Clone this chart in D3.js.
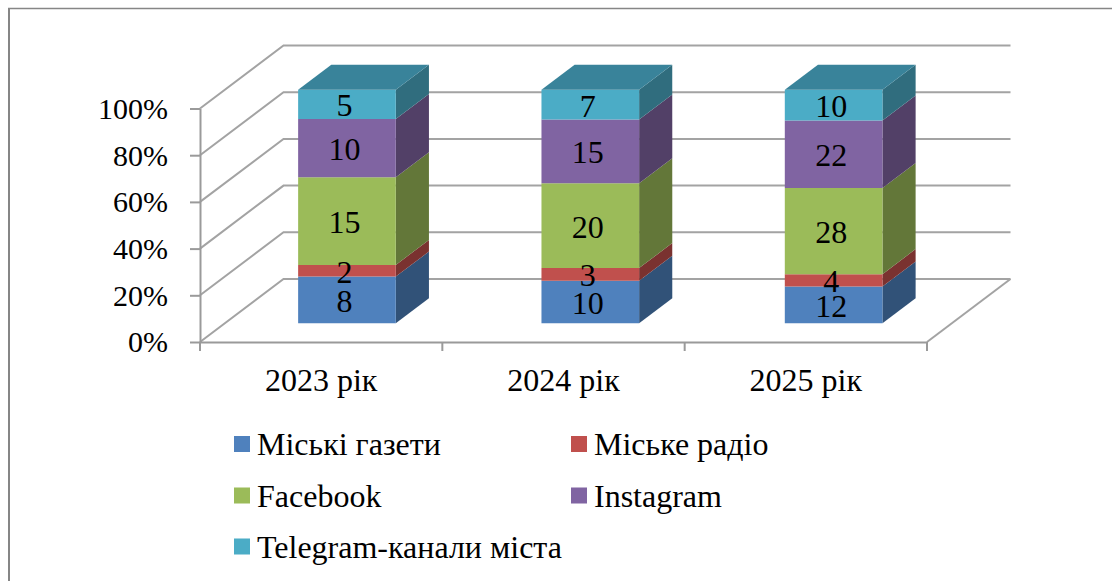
<!DOCTYPE html>
<html>
<head>
<meta charset="utf-8">
<script src="https://cdn.jsdelivr.net/npm/d3@7"></script>
<style>
html, body { margin: 0; padding: 0; background: #fff; overflow: hidden; }
svg { display: block; }
text { font-family: "Liberation Serif", serif; fill: #000; }
</style>
</head>
<body>
<svg id="chart"></svg>
<script>
const categories = ["2023 рік", "2024 рік", "2025 рік"];
const seriesNames = ["Міські газети", "Міське радіо", "Facebook", "Instagram", "Telegram-канали міста"];
const gazety = [8, 10, 12];
const radio = [2, 3, 4];
const facebook = [15, 20, 28];
const instagram = [10, 15, 22];
const telegram = [5, 7, 10];
const percentTicks = [0, 20, 40, 60, 80, 100];
const frontColors = ["#4f81bd", "#c0504d", "#9bbb59", "#8064a2", "#4bacc6"];
const sideColors = ["#315278", "#7a3230", "#637739", "#524067", "#306d7e"];
const topColors = ["#3c6290", "#923d3a", "#768e44", "#61497b", "#39839a"];

const width = 1112;
const height = 581;
const labelSize = "32px";

const svg = d3.select("#chart")
	.attr("width", width)
	.attr("height", height);

const seriesValues = [gazety, radio, facebook, instagram, telegram];
const rows = categories.map((c, i) => {
	const row = { category: c };
	seriesNames.forEach((s, j) => { row[s] = seriesValues[j][i]; });
	return row;
});
const stacked = d3.stack().keys(seriesNames).offset(d3.stackOffsetExpand)(rows);

const x = d3.scaleBand().domain(categories).range([200, 927]).paddingInner(0).paddingOuter(0);
// the boxes are spaced a little wider than the axis ticks
const barBand = d3.scaleBand().domain(categories).range([200, 930]);
const y = d3.scaleLinear().domain([0, 1]).range([342, 108.5]);
// depth: 0 is the front edge of the floor, 1 the back wall
const depthX = d3.scaleLinear().domain([0, 1]).range([0, 83.5]);
const depthY = d3.scaleLinear().domain([0, 1]).range([0, -63]);

const project = (px, value, depth) => [px + depthX(depth), y(value) + depthY(depth)];
const poly = (pts) => pts.map((p) => p.join(",")).join(" ");

const gridColor = "#a3a3a3";
const axisColor = "#9a9a9a";

// outer frame, only top and left are in view
svg.append("line")
	.attr("x1", 8).attr("x2", width)
	.attr("y1", 8.5).attr("y2", 8.5)
	.attr("stroke", "#868686")
	.attr("stroke-width", 1.5);
svg.append("line")
	.attr("x1", 9).attr("x2", 9)
	.attr("y1", 8).attr("y2", height)
	.attr("stroke", "#868686")
	.attr("stroke-width", 2);

// walls
const walls = svg.append("g");
percentTicks.forEach((t) => {
	const v = t / 100;
	const a = project(x.range()[0], v, 0);
	const b = project(x.range()[0], v, 1);
	const c = project(x.range()[1], v, 1);
	walls.append("polyline")
		.attr("points", poly([a, b, c]))
		.attr("fill", "none")
		.attr("stroke", gridColor)
		.attr("stroke-width", 2);
});
const floorEnd = [project(x.range()[1], 0, 0), project(x.range()[1], 0, 1)];
walls.append("line")
	.attr("x1", floorEnd[0][0]).attr("y1", floorEnd[0][1])
	.attr("x2", floorEnd[1][0]).attr("y2", floorEnd[1][1])
	.attr("stroke", gridColor)
	.attr("stroke-width", 2);

// axes
const yAxis = svg.append("g")
	.attr("transform", `translate(${x.range()[0]},0)`)
	.call(d3.axisLeft(y)
		.tickValues(percentTicks.map((t) => t / 100))
		.tickFormat(d3.format(".0%"))
		.tickSize(10)
		.tickSizeOuter(0)
		.tickPadding(22));
yAxis.selectAll("line, path").attr("stroke", axisColor).attr("stroke-width", 2);
yAxis.selectAll("text")
	.style("font-size", "30px")
	.attr("dy", "0.33em")
	.attr("fill", "#000");

const xAxis = svg.append("g")
	.attr("transform", `translate(0,${y(0)})`)
	.call(d3.axisBottom(x).tickSize(0).tickPadding(26));
xAxis.selectAll("path").attr("stroke", axisColor).attr("stroke-width", 2);
xAxis.selectAll("text")
	.style("font-size", labelSize)
	.attr("dy", "0.71em")
	.attr("fill", "#000");
xAxis.selectAll("line.edge")
	.data(categories.map((c) => x(c)).concat(x.range()[1]))
	.enter()
	.append("line")
	.attr("class", "edge")
	.attr("x1", (d) => d).attr("x2", (d) => d)
	.attr("y1", 0).attr("y2", 9)
	.attr("stroke", axisColor)
	.attr("stroke-width", 2);

// bars: each box sits between two depths, width is a fixed share of the band
const depthFront = 0.297;
const depthBack = 0.694;
const barWidth = x.bandwidth() * 0.403;
const barLeft = (c) => barBand(c) + barBand.bandwidth() / 2 - barWidth / 2 + 0.5;

const bars = svg.append("g");
stacked.forEach((layer, li) => {
	layer.forEach((d) => {
		const c = d.data.category;
		const left = barLeft(c);
		const right = left + barWidth;
		const g = bars.append("g");
		// right side
		g.append("polygon")
			.attr("fill", sideColors[li])
			.attr("points", poly([
				project(right, d[0], depthFront),
				project(right, d[0], depthBack),
				project(right, d[1], depthBack),
				project(right, d[1], depthFront)
			]));
		// front
		g.append("polygon")
			.attr("fill", frontColors[li])
			.attr("points", poly([
				project(left, d[0], depthFront),
				project(right, d[0], depthFront),
				project(right, d[1], depthFront),
				project(left, d[1], depthFront)
			]));
		// lid only on the last layer
		if (li === stacked.length - 1) {
			g.append("polygon")
				.attr("fill", topColors[li])
				.attr("points", poly([
					project(left, d[1], depthFront),
					project(right, d[1], depthFront),
					project(right, d[1], depthBack),
					project(left, d[1], depthBack)
				]));
		}
	});
});

// value labels sit a bit under the middle of the front face
const labels = svg.append("g");
stacked.forEach((layer, li) => {
	layer.forEach((d, i) => {
		const c = d.data.category;
		const mid = (d[0] + d[1]) / 2;
		const p = project(barLeft(c) + barWidth / 2, mid, depthFront);
		labels.append("text")
			.attr("x", p[0] - 2.5)
			.attr("y", p[1] + 12)
			.attr("text-anchor", "middle")
			.style("font-size", labelSize)
			.text(seriesValues[li][i]);
	});
});

// legend, two columns
const legendX = d3.scaleOrdinal().domain([0, 1]).range([234, 571]);
const legendY = d3.scaleOrdinal().domain([0, 1, 2]).range([446, 497.5, 548.5]);
const legend = svg.append("g");
seriesNames.forEach((name, i) => {
	const col = i % 2;
	const row = Math.floor(i / 2);
	const g = legend.append("g")
		.attr("transform", `translate(${legendX(col)},${legendY(row)})`);
	g.append("rect")
		.attr("x", 0).attr("y", -10)
		.attr("width", 16).attr("height", 16)
		.attr("fill", frontColors[i]);
	g.append("text")
		.attr("x", 23)
		.attr("y", 9)
		.style("font-size", labelSize)
		.text(name);
});
</script>
</body>
</html>
